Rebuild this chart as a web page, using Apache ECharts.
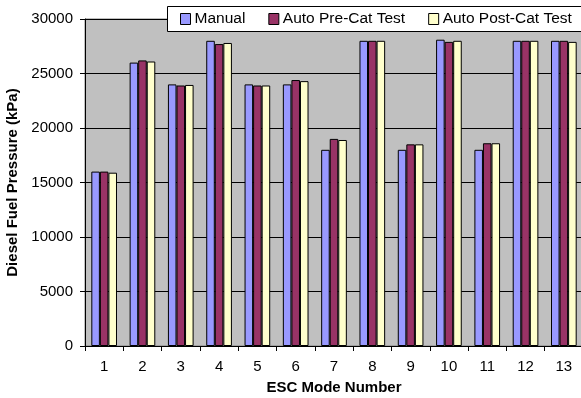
<!DOCTYPE html>
<html>
<head>
<meta charset="utf-8">
<script src="https://cdn.jsdelivr.net/npm/echarts@6/dist/echarts.min.js"></script>
<style>
  html, body { margin: 0; padding: 0; background: #ffffff; }
  #main { width: 581px; height: 398px; }
</style>
</head>
<body>
<div id="main"></div>
<script>
// ESC mode numbers on the x axis
var modes = ["1", "2", "3", "4", "5", "6", "7", "8", "9", "10", "11", "12", "13"];

// diesel fuel pressure (kPa)
var manual = [16000, 26000, 24000, 28000, 24000, 24000, 18000, 28000, 18000, 28100, 18000, 28000, 28000];
var preCat = [16000, 26200, 23900, 27700, 23900, 24400, 19000, 28000, 18500, 27900, 18600, 28000, 28000];
var postCat = [15900, 26100, 23950, 27800, 23900, 24300, 18900, 28000, 18500, 28000, 18600, 28000, 27900];

var yTicks = [0, 5000, 10000, 15000, 20000, 25000, 30000];

var font = "Arial, 'Liberation Sans', sans-serif";

var chart = echarts.init(document.getElementById("main"));

function barSeries(name, data, color) {
  return {
    name: name,
    type: "bar",
    data: data,
    barGap: "0%",
    barCategoryGap: "33%",
    itemStyle: {
      color: color,
      borderColor: "#000000",
      borderWidth: 1
    }
  };
}

chart.setOption({
  backgroundColor: "#ffffff",
  animation: false,
  textStyle: { fontFamily: font },
  //plot area
  grid: {
    left: 85,
    top: 19,
    right: -2,
    bottom: 52,
    show: true,
    backgroundColor: "#c0c0c0",
    borderColor: "#808080",
    borderWidth: 1,
    containLabel: false,
    outerBoundsMode: "none"
  },
  // legend frame runs off the right edge, so it is drawn apart from the legend
  graphic: [
    {
      type: "rect",
      z: 3,
      shape: { x: 167.5, y: 6.5, width: 440, height: 25 },
      style: { fill: "#ffffff", stroke: "#000000", lineWidth: 1 }
    }
  ],
  legend: {
    left: 167,
    top: 6,
    width: 440,
    padding: [5, 0, 5, 13],
    itemGap: 23,
    itemWidth: 10,
    itemHeight: 11,
    icon: "rect",
    textStyle: { fontFamily: font, fontSize: 15.5, color: "#000000", padding: [0, 0, 0, -1] },
    itemStyle: { borderColor: "#000000", borderWidth: 1 },
    data: ["Manual", "Auto Pre-Cat Test", "Auto Post-Cat Test"]
  },
  xAxis: {
    type: "category",
    data: modes,
    name: "ESC Mode Number",
    nameLocation: "middle",
    nameGap: 34,
    nameTextStyle: { fontFamily: font, fontSize: 15, fontWeight: "bold", color: "#000000", verticalAlign: "top" },
    axisLine: { lineStyle: { color: "#000000", width: 1 } },
    axisTick: { show: true, length: 5, lineStyle: { color: "#000000" } },
    axisLabel: { fontFamily: font, fontSize: 15, color: "#000000", margin: 13 }
  },
  yAxis: {
    type: "value",
    min: yTicks[0],
    max: yTicks[yTicks.length - 1],
    interval: 5000,
    name: "Diesel Fuel Pressure (kPa)",
    nameLocation: "middle",
    nameGap: 54,
    nameTextStyle: { fontFamily: font, fontSize: 15, fontWeight: "bold", color: "#000000" },
    axisLine: { show: true, lineStyle: { color: "#000000", width: 1 } },
    axisTick: { show: true, length: 5, lineStyle: { color: "#000000" } },
    axisLabel: {
      fontFamily: font,
      fontSize: 15,
      color: "#000000",
      margin: 12,
      formatter: function(v) {
        return String(v);
      }
    },
    splitLine: { show: true, lineStyle: { color: "#000000", width: 1 } }
  },
  series: [
    barSeries("Manual", manual, "#9999ff"),
    barSeries("Auto Pre-Cat Test", preCat, "#993366"),
    barSeries("Auto Post-Cat Test", postCat, "#ffffcc")
  ]
});
</script>
</body>
</html>
